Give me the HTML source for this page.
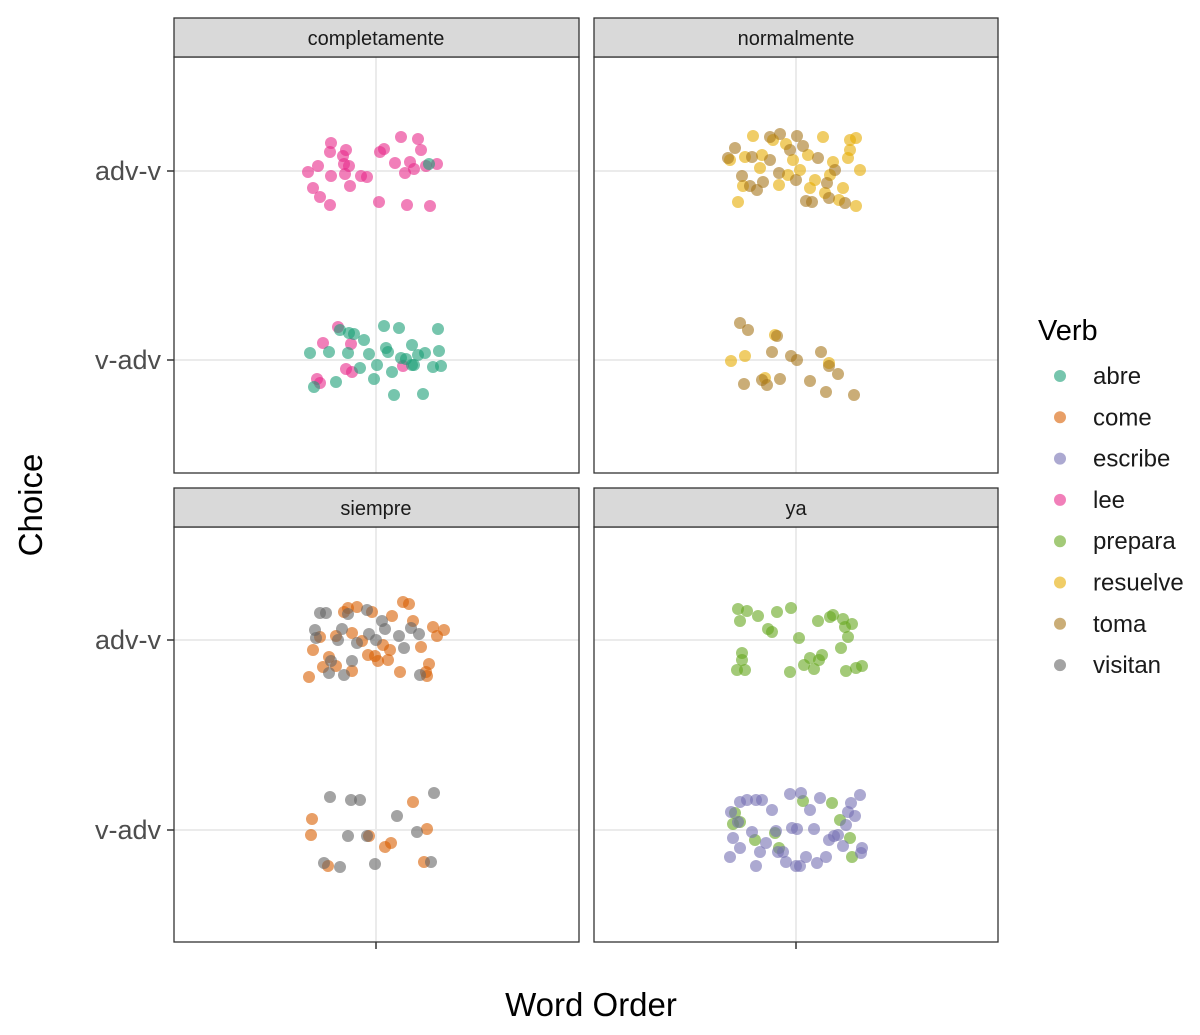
<!DOCTYPE html>
<html><head><meta charset="utf-8"><style>body{margin:0;background:#fff}svg{display:block}text{font-family:"Liberation Sans",Arial,sans-serif}</style></head>
<body>
<svg id="s" width="1200" height="1035" xmlns="http://www.w3.org/2000/svg">
<rect width="1200" height="1035" fill="#fff"/>
<g stroke="#ebebeb" stroke-width="2">
<line x1="174" x2="579" y1="171" y2="171"/><line x1="174" x2="579" y1="360" y2="360"/><line x1="376" x2="376" y1="57" y2="473"/>
<line x1="594" x2="998" y1="171" y2="171"/><line x1="594" x2="998" y1="360" y2="360"/><line x1="796" x2="796" y1="57" y2="473"/>
<line x1="174" x2="579" y1="640" y2="640"/><line x1="174" x2="579" y1="830" y2="830"/><line x1="376" x2="376" y1="527" y2="942"/>
<line x1="594" x2="998" y1="640" y2="640"/><line x1="594" x2="998" y1="830" y2="830"/><line x1="796" x2="796" y1="527" y2="942"/>
</g>
<g id="pts"></g>
<g fill="none" stroke="#333" stroke-width="1.3">
<rect x="174" y="57" width="405" height="416"/><rect x="594" y="57" width="404" height="416"/>
<rect x="174" y="527" width="405" height="415"/><rect x="594" y="527" width="404" height="415"/>
</g>
<g fill="#d9d9d9" stroke="#333" stroke-width="1.3">
<rect x="174" y="18" width="405" height="39"/><rect x="594" y="18" width="404" height="39"/>
<rect x="174" y="488" width="405" height="39"/><rect x="594" y="488" width="404" height="39"/>
</g>
<g font-size="20" fill="#1a1a1a" text-anchor="middle">
<text x="376" y="45">completamente</text><text x="796" y="45">normalmente</text>
<text x="376" y="515">siempre</text><text x="796" y="515">ya</text>
</g>
<g stroke="#333" stroke-width="1.5">
<line x1="167" x2="174" y1="171" y2="171"/><line x1="167" x2="174" y1="360" y2="360"/>
<line x1="167" x2="174" y1="640" y2="640"/><line x1="167" x2="174" y1="830" y2="830"/>
<line x1="376" x2="376" y1="942" y2="949"/><line x1="796" x2="796" y1="942" y2="949"/>
</g>
<g font-size="27" fill="#4d4d4d" text-anchor="end">
<text x="161" y="180">adv-v</text><text x="161" y="369">v-adv</text>
<text x="161" y="649">adv-v</text><text x="161" y="839">v-adv</text>
</g>
<text x="591" y="1016" font-size="33" text-anchor="middle" fill="#000">Word Order</text>
<text transform="translate(42,505) rotate(-90)" font-size="33" text-anchor="middle" fill="#000">Choice</text>
<text x="1038" y="340" font-size="29" fill="#000">Verb</text>
<g id="leg" font-size="24" fill="#1a1a1a"></g>
</svg>
<script>
var C={a:"#1B9E77",c:"#D95F02",e:"#7570B3",l:"#E7298A",p:"#66A61E",r:"#E6AB02",t:"#A6761D",v:"#666666"};
var D={
l:[331,143,346,150,330,152,343,156,318,166,308,172,331,176,349,166,350,186,313,188,320,197,330,205,380,152,384,149,401,137,418,139,421,150,395,163,410,162,414,169,405,173,437,164,426,166,367,177,361,176,379,202,407,205,430,206,344,164,345,174,338,327,351,344,323,343,352,372,317,379,320,383,346,369,403,366],
a:[429,164,310,353,314,387,329,352,336,382,340,330,349,333,348,353,354,334,364,340,369,354,377,365,374,379,384,326,386,348,388,352,392,372,394,395,399,328,401,358,406,359,412,345,412,365,418,355,423,394,425,353,433,367,438,329,439,351,441,366,414,365,360,368],
r:[738,202,743,186,730,160,753,136,760,168,773,140,786,144,800,170,808,155,823,137,830,175,833,162,848,158,850,140,856,138,860,170,856,206,843,188,839,200,825,193,815,180,779,185,762,155,745,157,793,160,810,188,788,175,850,150,731,361,745,356,775,335,829,363,765,378],
t:[728,158,735,148,742,176,750,186,752,157,763,182,770,160,779,173,780,134,790,150,797,136,803,146,806,201,812,202,818,158,827,183,835,170,845,203,796,180,757,190,770,137,829,198,740,323,748,330,777,336,772,352,744,384,762,380,767,385,780,379,791,356,810,381,821,352,826,392,854,395,838,374,829,366,797,360],
c:[309,677,313,650,323,667,329,657,336,636,344,612,348,608,352,633,357,607,362,641,368,655,375,656,378,661,383,645,388,660,392,616,403,602,409,604,413,621,421,647,427,676,429,664,433,627,437,636,444,630,352,671,336,666,320,637,400,672,426,672,372,612,390,650,312,819,311,835,328,866,369,836,385,847,391,843,413,802,427,829,424,862],
v:[315,630,316,638,320,613,326,613,331,661,329,673,342,629,344,675,352,661,357,643,367,610,369,634,376,640,382,621,385,629,399,636,404,648,411,628,419,634,420,675,348,614,338,640,330,797,351,800,360,800,397,816,348,836,367,836,324,863,340,867,375,864,431,862,434,793,417,832],
p:[738,609,747,611,740,621,742,653,745,670,737,670,758,616,768,629,772,632,777,612,791,608,790,672,799,638,804,665,810,658,818,621,819,660,822,655,830,617,833,615,841,648,845,627,846,671,848,637,852,624,856,668,862,666,843,619,814,669,742,660,733,824,735,813,740,822,755,840,779,848,803,801,832,803,840,820,850,838,852,857,775,833],
e:[731,812,733,838,730,857,740,802,747,800,752,832,756,800,762,800,760,852,756,866,766,843,772,810,778,852,783,852,786,862,792,828,790,794,797,829,801,793,810,810,814,829,826,857,829,840,834,836,838,835,846,825,848,812,851,803,860,795,862,848,861,853,800,866,796,866,776,831,740,848,855,816,738,822,820,798,806,857,843,846,817,863]};
var h="";for(var k in D){var a=D[k];for(var i=0;i<a.length;i+=2)h+='<circle cx="'+a[i]+'" cy="'+a[i+1]+'" r="6" fill="'+C[k]+'" fill-opacity="0.6"/>';}
document.getElementById("pts").innerHTML=h;
var L=[["abre","a"],["come","c"],["escribe","e"],["lee","l"],["prepara","p"],["resuelve","r"],["toma","t"],["visitan","v"]],g="";
L.forEach(function(x,i){var y=376+41.3*i;g+='<circle cx="1060" cy="'+y+'" r="6" fill="'+C[x[1]]+'" fill-opacity="0.6"/><text x="1093" y="'+(y+8)+'">'+x[0]+'</text>';});
document.getElementById("leg").innerHTML=g;
</script>
</body></html>
